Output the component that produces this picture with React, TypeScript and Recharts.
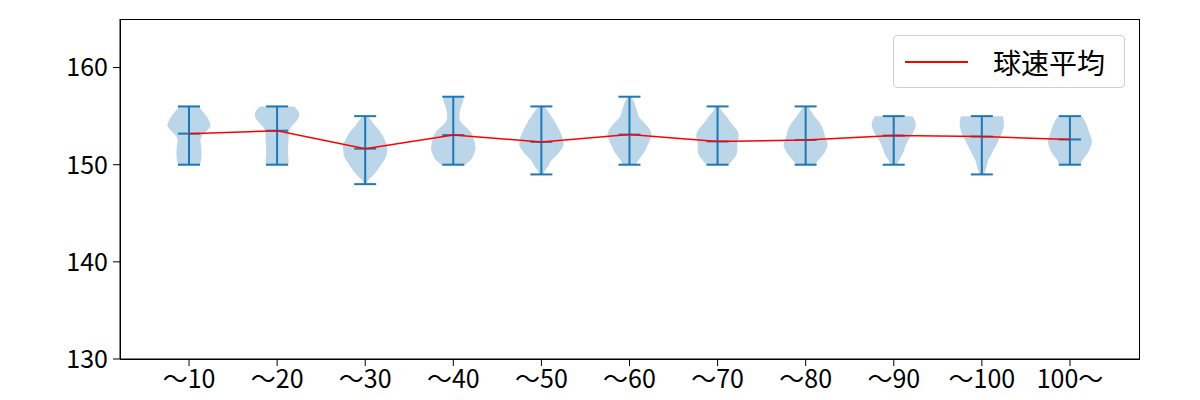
import { ComposedChart, Bar, Line, XAxis, YAxis, Legend } from 'recharts'

const categories = ['～10', '～20', '～30', '～40', '～50', '～60', '～70', '～80', '～90', '～100', '100～']
const speedMin = [150, 150, 148, 150, 149, 150, 150, 150, 150, 149, 150]
const speedMax = [156, 156, 155, 157, 156, 157, 156, 156, 155, 155, 155]
const speedMean = [153.2, 153.5, 151.65, 153.05, 152.35, 153.1, 152.4, 152.55, 153.0, 152.9, 152.6]

// relative violin width (1 = widest), sampled from min to max in 0.5 km/h steps
const density = [
  [0.5, 0.55, 0.57, 0.57, 0.55, 0.52, 0.6, 0.82, 0.98, 0.92, 0.8, 0.62, 0.45],
  [0.52, 0.52, 0.5, 0.5, 0.5, 0.52, 0.53, 0.55, 0.68, 0.88, 1.0, 0.97, 0.78],
  [0.05, 0.18, 0.4, 0.58, 0.72, 0.88, 0.97, 1.0, 1.0, 0.9, 0.8, 0.65, 0.45, 0.3, 0.12],
  [0.55, 0.8, 0.92, 1.0, 1.0, 0.95, 0.88, 0.75, 0.5, 0.32, 0.28, 0.3, 0.35, 0.45, 0.45],
  [0.08, 0.2, 0.35, 0.48, 0.7, 0.88, 1.0, 0.98, 0.93, 0.83, 0.72, 0.6, 0.45, 0.3, 0.15],
  [0.3, 0.42, 0.58, 0.72, 0.82, 0.92, 1.0, 0.95, 0.8, 0.6, 0.42, 0.35, 0.28, 0.2, 0.08],
  [0.5, 0.7, 0.85, 0.9, 0.9, 0.92, 0.97, 0.9, 0.72, 0.55, 0.4, 0.2, 0.1],
  [0.42, 0.6, 0.78, 0.92, 1.0, 0.95, 0.87, 0.82, 0.72, 0.58, 0.4, 0.25, 0.1],
  [0.15, 0.25, 0.38, 0.47, 0.55, 0.65, 0.8, 0.92, 1.0, 0.97, 0.85],
  [0.1, 0.18, 0.24, 0.3, 0.42, 0.52, 0.65, 0.75, 0.87, 0.95, 1.0, 1.0, 0.95],
  [0.5, 0.58, 0.75, 0.88, 0.97, 1.0, 0.93, 0.85, 0.78, 0.68, 0.55],
]

const yTicks = [130, 140, 150, 160]

const data = categories.map((cat, i) => ({
  cat,
  min: speedMin[i],
  max: speedMax[i],
  mean: speedMean[i],
  dens: density[i],
}))

const BLUE = '#1f77b4'
const FONT = '"Noto Sans CJK JP", "Noto Sans", sans-serif'

// catmull-rom through the points, returned as bezier segments (no leading M)
function smooth(pts: number[][]) {
  let d = ''
  for (let i = 0; i < pts.length - 1; i++) {
    const p0 = pts[i - 1] || pts[i]
    const p1 = pts[i]
    const p2 = pts[i + 1]
    const p3 = pts[i + 2] || p2
    const c1x = p1[0] + (p2[0] - p0[0]) / 6
    const c1y = p1[1] + (p2[1] - p0[1]) / 6
    const c2x = p2[0] - (p3[0] - p1[0]) / 6
    const c2y = p2[1] - (p3[1] - p1[1]) / 6
    d += ` C ${c1x} ${c1y} ${c2x} ${c2y} ${p2[0]} ${p2[1]}`
  }
  return d
}

function ViolinShape(props: any) {
  const { x, y, width, height, payload } = props
  if (x == null || !payload) return null
  const top = Math.min(y, y + height)
  const bottom = Math.max(y, y + height)
  const cx = x + width / 2
  const hw = width / 2
  const { min, max, mean, dens } = payload
  const toY = (v: number) => bottom - ((v - min) / (max - min)) * (bottom - top)
  const n = dens.length
  const right = dens.map((w: number, i: number) => [cx + w * hw, toY(min + ((max - min) * i) / (n - 1))])
  const left = dens
    .map((w: number, i: number) => [cx - w * hw, toY(min + ((max - min) * i) / (n - 1))])
    .reverse()
  const path =
    `M ${right[0][0]} ${right[0][1]}` +
    smooth(right) +
    ` L ${left[0][0]} ${left[0][1]}` +
    smooth(left) +
    ' Z'
  const cap = width / 4
  const my = toY(mean)
  return (
    <g>
      <path d={path} fill={BLUE} fillOpacity={0.3} stroke="none" />
      <line x1={cx} x2={cx} y1={top} y2={bottom} stroke={BLUE} strokeWidth={2} />
      <line x1={cx - cap} x2={cx + cap} y1={top} y2={top} stroke={BLUE} strokeWidth={2} />
      <line x1={cx - cap} x2={cx + cap} y1={bottom} y2={bottom} stroke={BLUE} strokeWidth={2} />
      <line x1={cx - cap} x2={cx + cap} y1={my} y2={my} stroke={BLUE} strokeWidth={2} />
    </g>
  )
}

function LegendBox(props: any) {
  const items = (props.payload || []).filter((p: any) => p.dataKey === 'mean')
  return (
    <div
      style={{
        width: 230,
        height: 51,
        border: '1px solid #d0d0d0',
        borderRadius: 4,
        background: 'rgba(255,255,255,0.8)',
        boxSizing: 'content-box',
        fontFamily: FONT,
      }}
    >
      {items.map((it: any) => (
        <div key={it.value} style={{ display: 'flex', alignItems: 'center', height: 51 }}>
          <div style={{ width: 63, height: 2, background: 'red', marginLeft: 11 }} />
          <span style={{ marginLeft: 25, fontSize: 28, color: '#000', lineHeight: 1 }}>{it.value}</span>
        </div>
      ))}
    </div>
  )
}

export default function App() {
  return (
    <div style={{ position: 'absolute', left: 0, top: 0, width: 1200, height: 400, background: '#fff' }}>
      <ComposedChart width={1200} height={400} data={data} margin={{ top: 19, right: 60, bottom: 0, left: 60 }}>
        <XAxis
          dataKey="cat"
          padding={{ left: 25, right: 26 }}
          height={41}
          axisLine={{ stroke: '#000' }}
          tickLine={{ stroke: '#000' }}
          tickSize={7}
          tickMargin={4}
          tick={{ fill: '#000', fontSize: 25, fontFamily: FONT }}
          interval={0}
        />
        <YAxis
          domain={[130, 165]}
          ticks={yTicks}
          width={60}
          axisLine={{ stroke: '#000' }}
          tickLine={{ stroke: '#000' }}
          tickSize={7}
          tickMargin={5}
          tick={{ fill: '#000', fontSize: 25, fontFamily: FONT }}
          allowDataOverflow
        />
        <Bar
          dataKey={(d: any) => [d.min, d.max]}
          barSize={44}
          shape={<ViolinShape />}
          legendType="none"
          isAnimationActive={false}
        />
        <Line
          dataKey="mean"
          name="球速平均"
          stroke="red"
          strokeWidth={1.5}
          dot={false}
          activeDot={false}
          isAnimationActive={false}
        />
        <Legend
          layout="horizontal"
          verticalAlign="middle"
          align="center"
          content={<LegendBox />}
          wrapperStyle={{ top: 35, left: 893, width: 232, height: 53 }}
        />
      </ComposedChart>
      {/* plot frame (matplotlib spines) */}
      <div
        style={{
          position: 'absolute',
          left: 120,
          top: 19,
          width: 1020,
          height: 341,
          border: '1px solid #000',
          boxSizing: 'border-box',
          pointerEvents: 'none',
        }}
      />
    </div>
  )
}
